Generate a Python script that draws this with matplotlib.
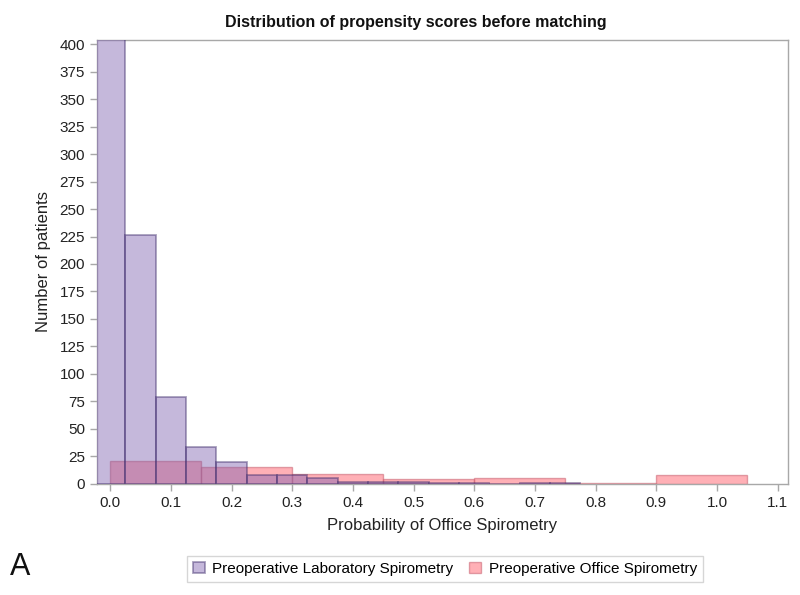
import matplotlib
matplotlib.use('Agg')
import matplotlib.pyplot as plt
import numpy as np

plt.rcParams['font.family'] = ['Liberation Sans Narrow', 'Liberation Sans', 'DejaVu Sans']

# laboratory spirometry: bins of width 0.05 centred on 0.00, 0.05, ...
lab_centers = [0.00, 0.05, 0.10, 0.15, 0.20, 0.25, 0.30, 0.35, 0.40, 0.45,
               0.50, 0.55, 0.60, 0.65, 0.70, 0.75]
lab_counts = [420, 226, 79, 33, 20, 8, 8, 5, 2, 2, 2, 1, 1, 0, 1, 1]
lab_width = 0.05

# office spirometry: bins of width 0.15 starting at 0
office_left = [0.00, 0.15, 0.30, 0.45, 0.60, 0.75, 0.90]
office_counts = [21, 15, 9, 4, 5, 1, 8]
office_width = 0.15

xticks = [0.0, 0.1, 0.2, 0.3, 0.4, 0.5, 0.6, 0.7, 0.8, 0.9, 1.0, 1.1]
yticks = list(range(0, 401, 25))

fig = plt.figure(figsize=(8, 5.95), dpi=100)
ax = fig.add_axes([0.121, 0.187, 0.864, 0.746])

ax.bar(office_left, office_counts, width=office_width, align='edge',
       color='#ff6f7a', alpha=0.55, edgecolor='#c86070', linewidth=1.0,
       label='Preoperative Office Spirometry', zorder=2)
ax.bar(lab_centers, lab_counts, width=lab_width, align='center',
       color='#7f62b0', alpha=0.45, edgecolor='#3c2a6a', linewidth=1.3,
       label='Preoperative Laboratory Spirometry', zorder=3)

ax.set_xlim(-0.022, 1.117)
ax.set_ylim(0, 404)
ax.set_xticks(xticks)
ax.set_xticklabels([f'{v:.1f}' for v in xticks])
ax.set_yticks(yticks)

for s in ax.spines.values():
    s.set_color('#a8a8a8')
    s.set_linewidth(1.0)
ax.tick_params(axis='both', colors='#a8a8a8', labelcolor='#222222',
               labelsize=11, length=5, width=1)

ax.set_title('Distribution of propensity scores before matching',
             fontsize=11.5, fontweight='bold', family=['Liberation Sans', 'DejaVu Sans'],
             color='#111111', pad=9, x=0.462)
ax.set_xlabel('Probability of Office Spirometry', fontsize=12, color='#222222', labelpad=6)
ax.set_ylabel('Number of patients', fontsize=12, color='#222222', labelpad=6)

handles, labels = ax.get_legend_handles_labels()
leg = fig.legend(handles[::-1], labels[::-1], loc='center', bbox_to_anchor=(0.556, 0.044),
                 ncol=2, fontsize=11, frameon=True, fancybox=False,
                 handlelength=0.8, handleheight=0.8, handletextpad=0.5,
                 columnspacing=1.0, borderpad=0.4)
leg.get_frame().set_edgecolor('#cccccc')
leg.get_frame().set_linewidth(1.0)

fig.text(0.012, 0.033, 'A', fontsize=22, color='#111111')

fig.savefig('out.png', dpi=100)
